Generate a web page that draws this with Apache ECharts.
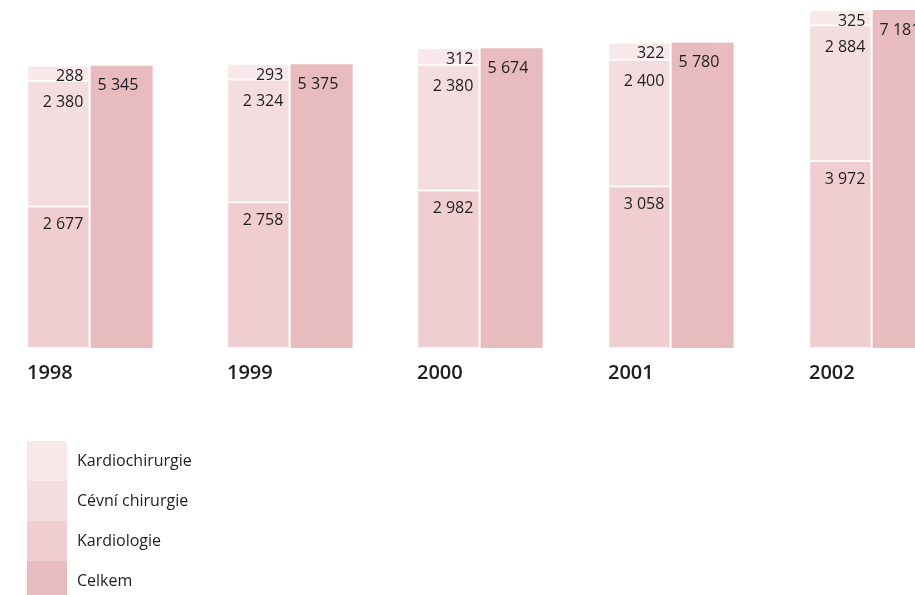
<!DOCTYPE html>
<html>
<head>
<meta charset="utf-8">
<script src="https://cdn.jsdelivr.net/npm/echarts@6/dist/echarts.min.js"></script>
<style>
  html, body { margin: 0; padding: 0; background: #fff; overflow: hidden; }
  #chart { width: 960px; height: 595px; }
</style>
</head>
<body>
<div id="chart"></div>
<script>
// Výkony podle oborů, 1998–2002
const years = ['1998', '1999', '2000', '2001', '2002'];
const kardiologie = [2677, 2758, 2982, 3058, 3972];
const cevniChirurgie = [2380, 2324, 2380, 2400, 2884];
const kardiochirurgie = [288, 293, 312, 322, 325];
const celkem = [5345, 5375, 5674, 5780, 7181];

const seriesNames = ['Kardiochirurgie', 'Cévní chirurgie', 'Kardiologie', 'Celkem'];
const colors = {
  'Kardiochirurgie': '#f8e8e9',
  'Cévní chirurgie': '#f4dddf',
  'Kardiologie': '#f0cdd0',
  'Celkem': '#e8bcbf'
};

// layout of the year groups (the last group runs past the visible edge)
const groupLeft = [27, 227, 417, 608, 809];
const groupWidth = 126;
const plotTop = 10;
const plotBottom = 247;      // distance from bottom of the canvas to the bar base
const axisMax = [6400, 6400, 6400, 6400, 7181];

const fontFamily = '"Open Sans", "Noto Sans", sans-serif';
const textColor = '#1e1e1e';

function fmt(v) {
  return String(v).replace(/\B(?=(\d{3})+(?!\d))/g, ' ');
}

const grid = [], xAxis = [], yAxis = [], series = [], title = [];

years.forEach((year, i) => {
  grid.push({
    left: groupLeft[i], width: groupWidth,
    top: plotTop, bottom: plotBottom, containLabel: false
  });
  xAxis.push({
    gridIndex: i, type: 'category', data: [year],
    show: false, boundaryGap: true
  });
  yAxis.push({
    gridIndex: i, type: 'value', min: 0, max: axisMax[i], show: false
  });
  title.push({
    text: year,
    left: groupLeft[i] - 5,
    top: 358,
    textStyle: { fontFamily, fontSize: 20, fontWeight: 600, color: textColor }
  });

  const stackParts = [
    { name: 'Kardiologie', data: kardiologie, dist: 10 },
    { name: 'Cévní chirurgie', data: cevniChirurgie, dist: 14 },
    { name: 'Kardiochirurgie', data: kardiochirurgie, dist: 3 }
  ];
  stackParts.forEach(p => {
    series.push({
      name: p.name,
      type: 'bar',
      xAxisIndex: i, yAxisIndex: i,
      stack: 'obory' + i,
      barWidth: 62,
      barGap: '2%',
      data: [p.data[i]],
      itemStyle: { color: colors[p.name], borderColor: '#ffffff', borderWidth: 0.8 },
      label: {
        show: true, position: 'insideTopRight', distance: p.dist,
        offset: [p.dist - 6, 0],
        formatter: d => fmt(d.value),
        fontFamily, fontSize: 16, color: textColor
      },
      emphasis: { disabled: true }
    });
  });
  series.push({
    name: 'Celkem',
    type: 'bar',
    xAxisIndex: i, yAxisIndex: i,
    barWidth: 62,
    barGap: '2%',
    data: [celkem[i]],
    itemStyle: { color: colors['Celkem'] },
    label: {
      show: true, position: 'insideTopLeft', distance: 12,
      offset: [-5, 0],
      formatter: d => fmt(d.value),
      fontFamily, fontSize: 16, color: textColor
    },
    emphasis: { disabled: true }
  });
});

const chart = echarts.init(document.getElementById('chart'), null, { renderer: 'canvas' });
chart.setOption({
  animation: false,
  backgroundColor: '#ffffff',
  title,
  grid, xAxis, yAxis, series,
  legend: {
    orient: 'vertical',
    left: 27, top: 441,
    height: 200,
    padding: 0,
    itemWidth: 40, itemHeight: 40, itemGap: 0,
    icon: 'rect',
    itemStyle: { borderWidth: 0 },
    data: seriesNames,
    selectedMode: false,
    textStyle: { fontFamily, fontSize: 16, color: textColor, padding: [2, 0, 0, 5] }
  }
});
</script>
</body>
</html>
